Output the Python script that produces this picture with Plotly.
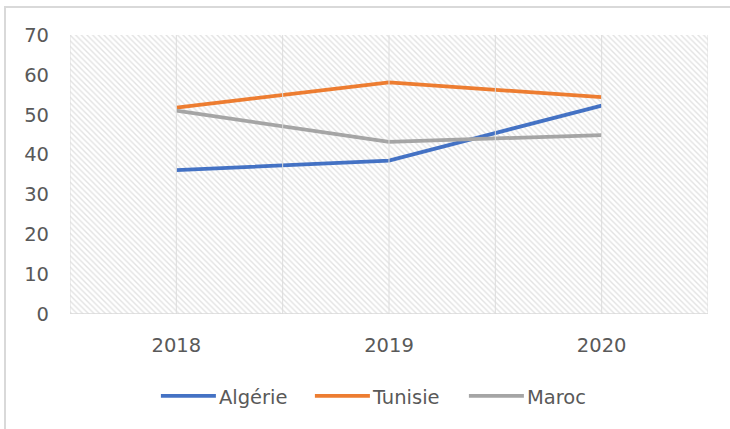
import plotly.graph_objects as go

years = ["2018", "2019", "2020"]
algerie = [36.1, 38.5, 52.3]
tunisie = [51.8, 58.1, 54.4]
maroc = [51.0, 43.2, 44.9]
y_ticks = [0, 10, 20, 30, 40, 50, 60, 70]

font_family = "DejaVu Sans, Liberation Sans, Arial"
text_color = "#595959"

fig = go.Figure()

# hatched plot-area background
fig.add_trace(go.Bar(
    x=[0, 1, 2], y=[70, 70, 70], width=1,
    marker=dict(color="white", line=dict(width=0),
                pattern=dict(shape="\\", fgcolor="#c6c6c6", bgcolor="white", size=4, solidity=0.35)),
    showlegend=False, hoverinfo="skip",
))

series = [("Algérie", algerie, "#4472C4"), ("Tunisie", tunisie, "#ED7D31"), ("Maroc", maroc, "#A5A5A5")]
for name, vals, col in series:
    fig.add_trace(go.Scatter(x=[0, 1, 2], y=vals, mode="lines", name=name,
                             line=dict(color=col, width=3.8)))

fig.update_layout(
    width=730, height=429,
    margin=dict(l=70, r=22, t=35, b=115),
    paper_bgcolor="white", plot_bgcolor="white",
    font=dict(family=font_family, color=text_color, size=19.5),
    bargap=0,
    showlegend=True,
    legend=dict(orientation="h", x=0.492, xanchor="center", y=-0.225, yanchor="top",
                font=dict(size=19.5, color=text_color), itemwidth=56, tracegroupgap=0,
                entrywidth=83, entrywidthmode="pixels"),
    xaxis=dict(range=[-0.5, 2.5], tickmode="array", tickvals=[0, 1, 2], ticktext=years,
               showgrid=False, zeroline=False, showline=False, ticks="", ticklabelstandoff=17),
    yaxis=dict(range=[0, 70], tickmode="array", tickvals=y_ticks,
               showgrid=True, gridcolor="#dcdcdc", gridwidth=1, zeroline=False,
               showline=False, ticks="", ticklabelstandoff=20),
    shapes=[
        *[dict(type="line", xref="x", yref="paper", x0=v, x1=v, y0=0, y1=1,
               line=dict(color="#dcdcdc", width=1), layer="above")
          for v in [-0.5, 0, 0.5, 1, 1.5, 2, 2.5]],
        dict(type="line", xref="paper", yref="y", x0=0, x1=1, y0=0, y1=0,
             line=dict(color="#d9d9d9", width=1.5), layer="above"),
        dict(type="rect", xref="paper", yref="paper",
             x0=-65/638, x1=(730 - 70 + 10) / 638, y0=-(429 - 314 + 10) / 279, y1=(314 - 7) / 279,
             line=dict(color="#d9d9d9", width=2), fillcolor="rgba(0,0,0,0)", layer="below"),
    ],
)

post = """
document.body.style.margin='0';
document.body.style.overflow='hidden';
document.querySelectorAll('.legendlines path').forEach(function(p){p.setAttribute('d','M8,0h55');});
"""
fig.write_html("out.html", post_script=post, config={"displayModeBar": False})
